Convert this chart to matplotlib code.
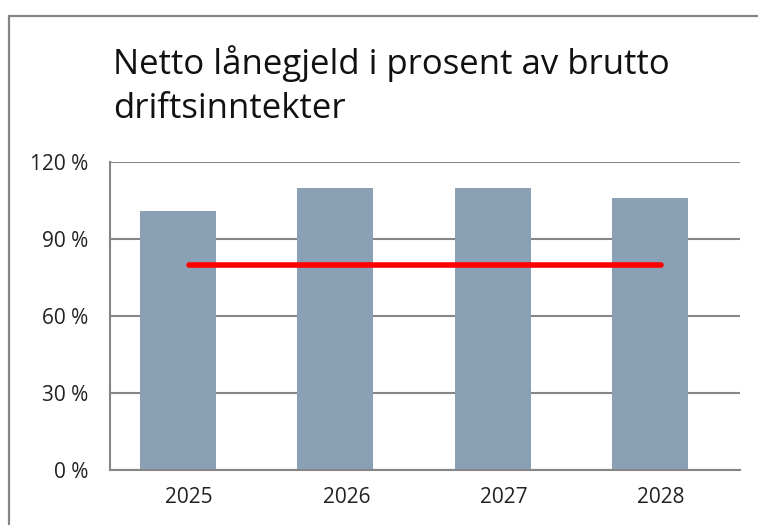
import matplotlib.pyplot as plt
from matplotlib.patches import Rectangle
from matplotlib.ticker import FuncFormatter

years = ['2025', '2026', '2027', '2028']
netto_laanegjeld = [101, 110, 110, 106]
maal = [80, 80, 80, 80]
yticks = [0, 30, 60, 90, 120]

plt.rcParams['font.family'] = ['Open Sans', 'DejaVu Sans']

fig = plt.figure(figsize=(7.58, 5.25), dpi=100)

# outer chart border (cropped at right and bottom in the original)
fig.patches.append(Rectangle((9 / 758, -0.1), 1.2, 1 - 16 / 525 + 0.1,
                             transform=fig.transFigure, fill=False,
                             edgecolor='#868686', linewidth=1.6))

ax = fig.add_axes([110 / 758, 1 - 470 / 525, 630 / 758, 308 / 525])

x = list(range(len(years)))
# bars sit a little left of the category centre, as in the original
bar_x = [i - 0.07 for i in x]
ax.bar(bar_x, netto_laanegjeld, width=0.48, color='#8aa0b4', zorder=2)
ax.plot(x, maal, color='#ff0000', linewidth=4, solid_capstyle='round', zorder=3)

ax.set_xlim(-0.5, len(years) - 0.5)
ax.set_ylim(0, 120)
ax.set_yticks(yticks)
ax.yaxis.set_major_formatter(FuncFormatter(lambda v, p: f'{v:.0f} %'))
ax.set_xticks(x)
ax.set_xticklabels(years)
ax.grid(axis='y', color='#868686', linewidth=1.5, zorder=1)
ax.tick_params(length=0, labelsize=15, colors='#222222')
ax.tick_params(axis='y', pad=15.5)
ax.tick_params(axis='x', pad=12)

for side in ['top', 'right']:
    ax.spines[side].set_visible(False)
for side in ['left', 'bottom']:
    ax.spines[side].set_color('#868686')
    ax.spines[side].set_linewidth(1.5)

fig.text(113 / 758, 1 - 45 / 525, 'Netto lånegjeld i prosent av brutto\ndriftsinntekter',
         fontsize=25, va='top', ha='left', linespacing=1.4, color='#111111')

fig.savefig('out.png', dpi=100)
